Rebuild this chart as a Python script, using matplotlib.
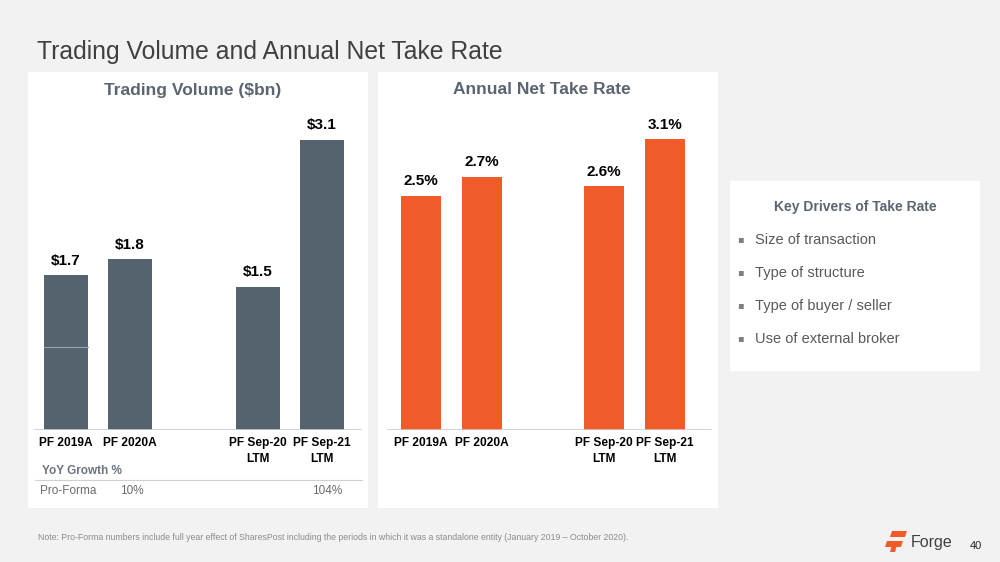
import matplotlib
matplotlib.use("Agg")
import matplotlib.pyplot as plt
from matplotlib.patches import Rectangle, Polygon

plt.rcParams['font.family'] = ['Liberation Sans', 'DejaVu Sans']

# data
vol_cats = ["PF 2019A", "PF 2020A", "PF Sep-20\nLTM", "PF Sep-21\nLTM"]
vol_pos = [0, 1, 3, 4]
vol_vals = [1.65, 1.82, 1.53, 3.1]
vol_labels = ["$1.7", "$1.8", "$1.5", "$3.1"]
vol_split = 0.89  # divider line in the first bar

rate_cats = ["PF 2019A", "PF 2020A", "PF Sep-20\nLTM", "PF Sep-21\nLTM"]
rate_pos = [0, 1, 3, 4]
rate_vals = [2.5, 2.7, 2.6, 3.1]
rate_labels = ["2.5%", "2.7%", "2.6%", "3.1%"]

growth_cols = ["10%", "104%"]

drivers = ["Size of transaction", "Type of structure",
           "Type of buyer / seller", "Use of external broker"]

W, H = 1000, 562
SLATE = "#55636f"
ORANGE = "#f15a29"
HEAD = "#5b6571"
TXT = "#595959"

fig = plt.figure(figsize=(10, 5.62), dpi=100)
fig.patch.set_facecolor("#f2f2f2")


def fx(x):
    return x / W


def fy(y):
    return 1 - y / H


def box(x0, y0, x1, y1, color="white"):
    fig.patches.append(Rectangle((fx(x0), fy(y1)), (x1 - x0) / W, (y1 - y0) / H,
                                 transform=fig.transFigure, facecolor=color,
                                 edgecolor="none", zorder=-5))


# white panels
box(28, 72, 368, 508)
box(378, 72, 718, 508)
box(730, 181, 980, 371)

fig.text(fx(37), fy(52), "Trading Volume and Annual Net Take Rate",
         fontsize=17.8, color="#404040", va="center", ha="left")


def make_axes(left_px, px_per_unit, x0_px, ymax_units):
    top, base = 100, 430
    ax = fig.add_axes([fx(left_px), fy(base), 340 / W, (base - top) / H])
    ax.set_facecolor("none")
    xmin = -(x0_px - left_px) / px_per_unit
    ax.set_xlim(xmin, xmin + 340 / px_per_unit)
    ax.set_ylim(0, (base - top) / ymax_units)
    for s in ax.spines.values():
        s.set_visible(False)
    ax.set_yticks([])
    return ax


# trading volume
ax1 = make_axes(28, 64, 66, 93.7)
ax1.bar(vol_pos, vol_vals, width=0.69, color=SLATE, zorder=2)
ax1.plot([vol_pos[0] - 0.345, vol_pos[0] + 0.345], [vol_split, vol_split],
         color="#9aa4ad", lw=0.8, zorder=3)
for p, v, lab in zip(vol_pos, vol_vals, vol_labels):
    ax1.text(p, v + 0.08, lab, ha="center", va="bottom", fontsize=11,
             fontweight="bold", color="black")
ax1.axhline(0, xmin=0.02, xmax=0.98, color="#cccccc", lw=1.2)
ax1.set_xticks(vol_pos)
ax1.set_xticklabels(vol_cats, fontsize=8.6, fontweight="bold", color="black",
                    linespacing=1.5)
ax1.tick_params(axis="x", length=0, pad=5)

# take rate
ax2 = make_axes(378, 61, 421, 93.8)
ax2.bar(rate_pos, rate_vals, width=0.66, color=ORANGE, zorder=2)
for p, v, lab in zip(rate_pos, rate_vals, rate_labels):
    ax2.text(p, v + 0.08, lab, ha="center", va="bottom", fontsize=11,
             fontweight="bold", color="black")
ax2.axhline(0, xmin=0.03, xmax=0.98, color="#cccccc", lw=1.2)
ax2.set_xticks(rate_pos)
ax2.set_xticklabels(rate_cats, fontsize=8.6, fontweight="bold", color="black",
                    linespacing=1.5)
ax2.tick_params(axis="x", length=0, pad=5)

fig.text(fx(193), fy(90), "Trading Volume ($bn)", ha="center", va="center",
         fontsize=12.5, fontweight="bold", color=HEAD)
fig.text(fx(542), fy(90), "Annual Net Take Rate", ha="center", va="center",
         fontsize=12.5, fontweight="bold", color=HEAD)

# growth table
fig.text(fx(42), fy(471), "YoY Growth %", ha="left", va="center",
         fontsize=8.5, fontweight="bold", color="#6b7480")
fig.lines.append(plt.Line2D([fx(35), fx(362)], [fy(480), fy(480)],
                            transform=fig.transFigure, color="#d0d0d0", lw=0.8))
fig.text(fx(40), fy(491), "Pro-Forma", ha="left", va="center",
         fontsize=8.5, color="#6b6b6b")
for lab, xc in zip(growth_cols, [132, 327]):
    fig.text(fx(xc), fy(491), lab, ha="center", va="center", fontsize=8.5,
             color="#6b6b6b")

# key drivers box
fig.text(fx(855), fy(207), "Key Drivers of Take Rate", ha="center",
         va="center", fontsize=10, fontweight="bold", color=HEAD)
for i, d in enumerate(drivers):
    yy = 240 + i * 33
    fig.text(fx(737), fy(yy - 1), "\u25aa", ha="left", va="center", fontsize=7,
             color="#7f7f7f", family="DejaVu Sans")
    fig.text(fx(755), fy(yy), d, ha="left", va="center", fontsize=10.5,
             color=TXT)

# footnote
fig.text(fx(38), fy(537),
         "Note: Pro-Forma numbers include full year effect of SharesPost including "
         "the periods in which it was a standalone entity (January 2019 \u2013 October 2020).",
         ha="left", va="center", fontsize=6.35, color="#8c8c8c")

# logo
fig.patches.append(Polygon([(fx(892), fy(531)), (fx(907), fy(531)), (fx(905), fy(537)),
                            (fx(890), fy(537))], closed=True,
                           transform=fig.transFigure, facecolor=ORANGE, edgecolor="none"))
fig.patches.append(Polygon([(fx(887), fy(541)), (fx(903), fy(541)), (fx(901), fy(547)),
                            (fx(885), fy(547))], closed=True,
                           transform=fig.transFigure, facecolor=ORANGE, edgecolor="none"))
fig.patches.append(Polygon([(fx(893), fy(541)), (fx(898), fy(541)), (fx(895), fy(552)),
                            (fx(890), fy(552))], closed=True,
                           transform=fig.transFigure, facecolor=ORANGE, edgecolor="none"))
fig.text(fx(911), fy(542), "Forge", ha="left", va="center", fontsize=11.5,
         color="#404040")
fig.text(fx(970), fy(546), "40", ha="left", va="center", fontsize=8,
         color="#262626")

fig.savefig("out.png", dpi=100, facecolor=fig.get_facecolor())
